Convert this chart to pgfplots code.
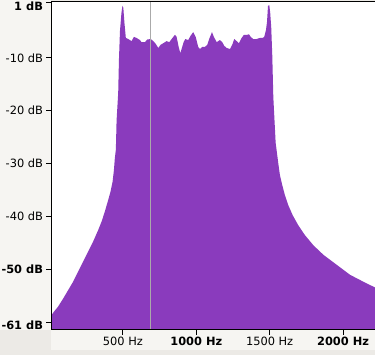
\documentclass[border=0pt]{standalone}
\usepackage{fontspec}
\setmainfont{DejaVu Sans}
\usepackage{pgfplots}
\pgfplotsset{compat=1.18}
\definecolor{bgdark}{RGB}{236,234,230}
\definecolor{bglight}{RGB}{246,245,242}
\definecolor{spec}{RGB}{138,59,189}
\definecolor{cursor}{RGB}{170,170,170}
\begin{document}
\begin{tikzpicture}
\fill[bgdark] (0,0) rectangle (375bp,355bp);
\fill[bglight] (0,25bp) rectangle (51bp,355bp);
\fill[bglight] (51bp,5bp) rectangle (375bp,25bp);
\useasboundingbox (0,0) rectangle (375bp,355bp);
\begin{axis}[
  at={(51bp,25bp)}, anchor=south west,
  scale only axis, width=324bp, height=328.5bp,
  xmin=10, xmax=2218, ymin=-61.56, ymax=0.71,
  axis background/.style={fill=white},
  axis line style={draw=none},
  font=\fontsize{11.4bp}{13bp}\selectfont,
  tick align=outside, major tick length=4.5bp,
  tick style={black, line width=1bp},
  xtick={500,1000,1500,2000},
  xticklabels={500 Hz,\textbf{1000 Hz},1500 Hz,\textbf{2000 Hz}},
  ytick={-50,-40,-30,-20,-10},
  yticklabels={\textbf{-50 dB},-40 dB,-30 dB,-20 dB,-10 dB},
  extra y ticks={0.43,-60.05},
  extra y tick labels={\textbf{1 dB},\textbf{-61 dB}},
  extra y tick style={yticklabel style={yshift=-3bp}},
  xtick pos=bottom, ytick pos=left,
  xticklabel style={yshift=1bp},
]
\addplot[fill=spec, draw=none] coordinates {
(10,-61.56) (10,-58.8) (14,-58.7) (30,-58.1) (59,-57.1) (93,-55.6) (127,-54.0)
(161,-52.4) (195,-50.5) (229,-48.6) (263,-46.7) (297,-44.8) (332,-42.6) (355,-41.0)
(377,-39.1) (400,-36.9) (416,-35.3) (430,-33.4) (439,-31.2) (445,-29.0) (452,-27.4)
(457,-21.8) (468,-16.6) (473,-10.4) (480,-4.9) (490,-1.5) (497,-0.1) (503,-0.5) (510,-3.2)
(520,-6.2) (536,-6.4) (559,-6.8) (575,-6.0) (593,-6.2) (616,-6.6) (627,-7.0)
(650,-7.0) (666,-6.5) (689,-6.4) (707,-6.8) (723,-7.3) (741,-8.1) (757,-7.5)
(775,-7.2) (798,-6.8) (816,-7.0) (832,-6.4) (855,-5.6) (866,-6.0) (880,-7.9)
(891,-9.1) (902,-8.1) (914,-7.0) (925,-6.4) (945,-6.6) (961,-5.8) (979,-5.1)
(996,-6.0) (1013,-7.9) (1025,-8.3) (1041,-7.9) (1059,-7.9) (1075,-7.5) (1088,-6.4)
(1107,-5.1) (1120,-6.0) (1139,-7.0) (1161,-6.6) (1177,-7.0) (1191,-7.7) (1207,-8.1)
(1230,-8.3) (1245,-7.5) (1259,-6.4) (1275,-6.8) (1291,-7.2) (1309,-6.2) (1325,-5.6)
(1347,-5.6) (1359,-5.5) (1371,-6.0) (1388,-6.4) (1411,-6.4) (1434,-6.2) (1452,-6.2)
(1463,-6.0) (1475,-4.7) (1482,-3.2) (1489,-0.1) (1498,0.0) (1504,-1.5) (1511,-4.3)
(1518,-9.6) (1525,-17.4) (1534,-22.3) (1541,-26.1) (1548,-27.6) (1559,-30.0)
(1570,-32.2) (1586,-34.1) (1604,-36.0) (1627,-37.9) (1657,-39.8) (1695,-41.7)
(1741,-43.6) (1798,-45.5) (1866,-47.3) (1957,-49.2) (2048,-51.1) (2138,-52.4)
(2218,-53.5) (2218,-61.56)
} -- cycle;
\addplot[cursor, line width=1bp] coordinates {(691,-61.56) (691,0.71)};
\draw[black, line width=1.3bp] (rel axis cs:0,1) -- (rel axis cs:0,0) -- (rel axis cs:1,0);
\draw[black, line width=1bp] (rel axis cs:0,1) -- (rel axis cs:1,1);
\end{axis}
\end{tikzpicture}
\end{document}
